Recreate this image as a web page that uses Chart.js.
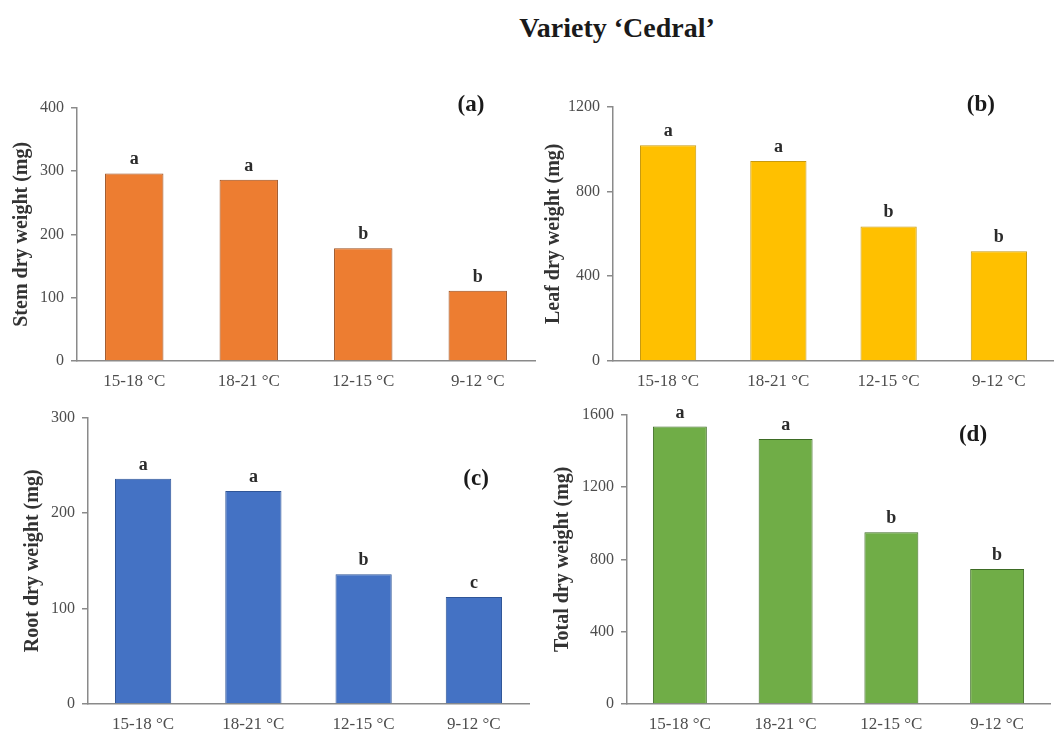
<!DOCTYPE html>
<html>
<head>
<meta charset="utf-8">
<script src="https://cdn.jsdelivr.net/npm/chart.js@4.4.0/dist/chart.umd.min.js"></script>
<style>
  html, body { margin: 0; padding: 0; background: #fff; }
  body { width: 1054px; height: 732px; overflow: hidden; position: relative; }
  #title {
    position: absolute; left: 417px; width: 400px; top: 12px;
    text-align: center; font-family: "Liberation Serif", serif;
    font-weight: bold; font-size: 28px; color: #1a1a1a;
  }
  .panel { position: absolute; }
</style>
</head>
<body>
<div id="title">Variety ‘Cedral’</div>
<div class="panel" id="pa"><canvas id="ca"></canvas></div>
<div class="panel" id="pb"><canvas id="cb"></canvas></div>
<div class="panel" id="pc"><canvas id="cc"></canvas></div>
<div class="panel" id="pd"><canvas id="cd"></canvas></div>
<script>
// Temperature regimes
const categories = ['15-18 °C', '18-21 °C', '12-15 °C', '9-12 °C'];

// Dry weights (mg)
const stemWeight  = [296, 286, 178, 111];
const leafWeight  = [1018, 943, 635, 518];
const rootWeight  = [236, 223, 136, 112];
const totalWeight = [1534, 1465, 950, 747];

// Mean separation letters
const stemLetters  = ['a', 'a', 'b', 'b'];
const leafLetters  = ['a', 'a', 'b', 'b'];
const rootLetters  = ['a', 'a', 'b', 'c'];
const totalLetters = ['a', 'a', 'b', 'b'];

// Y-axis tick values
const stemTicks  = [0, 100, 200, 300, 400];
const leafTicks  = [0, 400, 800, 1200];
const rootTicks  = [0, 100, 200, 300];
const totalTicks = [0, 400, 800, 1200, 1600];

const SERIF = '"Liberation Serif", "DejaVu Serif", serif';
const AXIS = '#8a8a8a';

// Letters over the bars and the panel tag
const annotate = {
  id: 'annotate',
  afterDatasetsDraw(chart, args, opts) {
    const ctx = chart.ctx;
    const meta = chart.getDatasetMeta(0);
    ctx.save();
    ctx.fillStyle = '#2b2b2b';
    ctx.textAlign = 'center';
    ctx.textBaseline = 'alphabetic';
    ctx.font = 'bold 18px ' + SERIF;
    meta.data.forEach((bar, i) => {
      ctx.fillText(opts.letters[i], bar.x, bar.y - 9);
    });
    const a = chart.chartArea;
    ctx.font = 'bold 23px ' + SERIF;
    ctx.fillStyle = '#1a1a1a';
    ctx.textBaseline = 'middle';
    ctx.fillText(opts.tag, a.left + opts.tagX * (a.right - a.left), a.top + opts.tagY * (a.bottom - a.top));
    ctx.restore();
  }
};

function panel(divId, canvasId, area, cfg) {
  const padTop = 14, padRight = cfg.padRight, xH = 36;
  const titleSize = 20;
  const titleLH = titleSize * 1.2;
  const titlePad = 4;
  const yW = cfg.titleGap + titleLH / 2 + titlePad;
  const div = document.getElementById(divId);
  const w = area.right - area.left + yW + padRight;
  const h = area.bottom - area.top + padTop + xH;
  div.style.left = (area.left - yW) + 'px';
  div.style.top = (area.top - padTop) + 'px';
  div.style.width = w + 'px';
  div.style.height = h + 'px';
  const cv = document.getElementById(canvasId);
  cv.width = w; cv.height = h;
  const ticks = cfg.ticks;
  return new Chart(cv, {
    type: 'bar',
    data: {
      labels: categories,
      datasets: [{
        data: cfg.values,
        backgroundColor: cfg.fill,
        borderColor: cfg.edge,
        borderWidth: 1,
        barPercentage: 0.51,
        categoryPercentage: 1
      }]
    },
    options: {
      responsive: false,
      animation: false,
      devicePixelRatio: 1,
      layout: { padding: { left: 0, top: padTop, right: padRight, bottom: 0 } },
      plugins: {
        legend: { display: false },
        tooltip: { enabled: false },
        annotate: { letters: cfg.letters, tag: cfg.tag, tagX: cfg.tagX, tagY: cfg.tagY }
      },
      scales: {
        x: {
          offset: true,
          grid: { display: false, drawTicks: false },
          border: { display: true, color: AXIS, width: 1.5 },
          ticks: { color: '#4d4d4d', font: { family: SERIF, size: 17 }, padding: 10, maxRotation: 0 },
          afterFit(s) { s.height = xH; }
        },
        y: {
          min: ticks[0],
          max: ticks[ticks.length - 1],
          afterBuildTicks(s) { s.ticks = ticks.map(v => ({ value: v })); },
          grid: { display: true, drawOnChartArea: false, drawTicks: true, tickLength: 6, tickColor: AXIS, lineWidth: 1.5 },
          border: { display: true, color: AXIS, width: 1.5 },
          ticks: {
            color: '#4d4d4d', font: { family: SERIF, size: 16 }, padding: 7,
            callback: v => String(v)
          },
          title: {
            display: true, text: cfg.yTitle, color: '#333',
            font: { family: SERIF, size: titleSize, weight: 'bold' },
            padding: { top: titlePad, bottom: 0 }
          },
          afterFit(s) { s.width = yW; }
        }
      }
    },
    plugins: [annotate]
  });
}

panel('pa', 'ca', { left: 77, right: 535, top: 105, bottom: 361 }, {
  values: stemWeight, letters: stemLetters, ticks: stemTicks,
  yTitle: 'Stem dry weight (mg)', titleGap: 55, padRight: 3,
  fill: '#ED7D31', edge: '#9a4d1c', tag: '(a)', tagX: 0.86, tagY: -0.01
});
panel('pb', 'cb', { left: 613, right: 1054, top: 104, bottom: 361 }, {
  values: leafWeight, letters: leafLetters, ticks: leafTicks,
  yTitle: 'Leaf dry weight (mg)', titleGap: 59, padRight: 0,
  fill: '#FFC000', edge: '#c79a10', tag: '(b)', tagX: 0.834, tagY: -0.005
});
panel('pc', 'cc', { left: 88, right: 529, top: 415, bottom: 704 }, {
  values: rootWeight, letters: rootLetters, ticks: rootTicks,
  yTitle: 'Root dry weight (mg)', titleGap: 55, padRight: 3,
  fill: '#4472C4', edge: '#2f5597', tag: '(c)', tagX: 0.88, tagY: 0.215
});
panel('pd', 'cd', { left: 627, right: 1050, top: 412, bottom: 704 }, {
  values: totalWeight, letters: totalLetters, ticks: totalTicks,
  yTitle: 'Total dry weight (mg)', titleGap: 64, padRight: 3,
  fill: '#70AD47', edge: '#3d6b24', tag: '(d)', tagX: 0.818, tagY: 0.072
});
</script>
</body>
</html>
